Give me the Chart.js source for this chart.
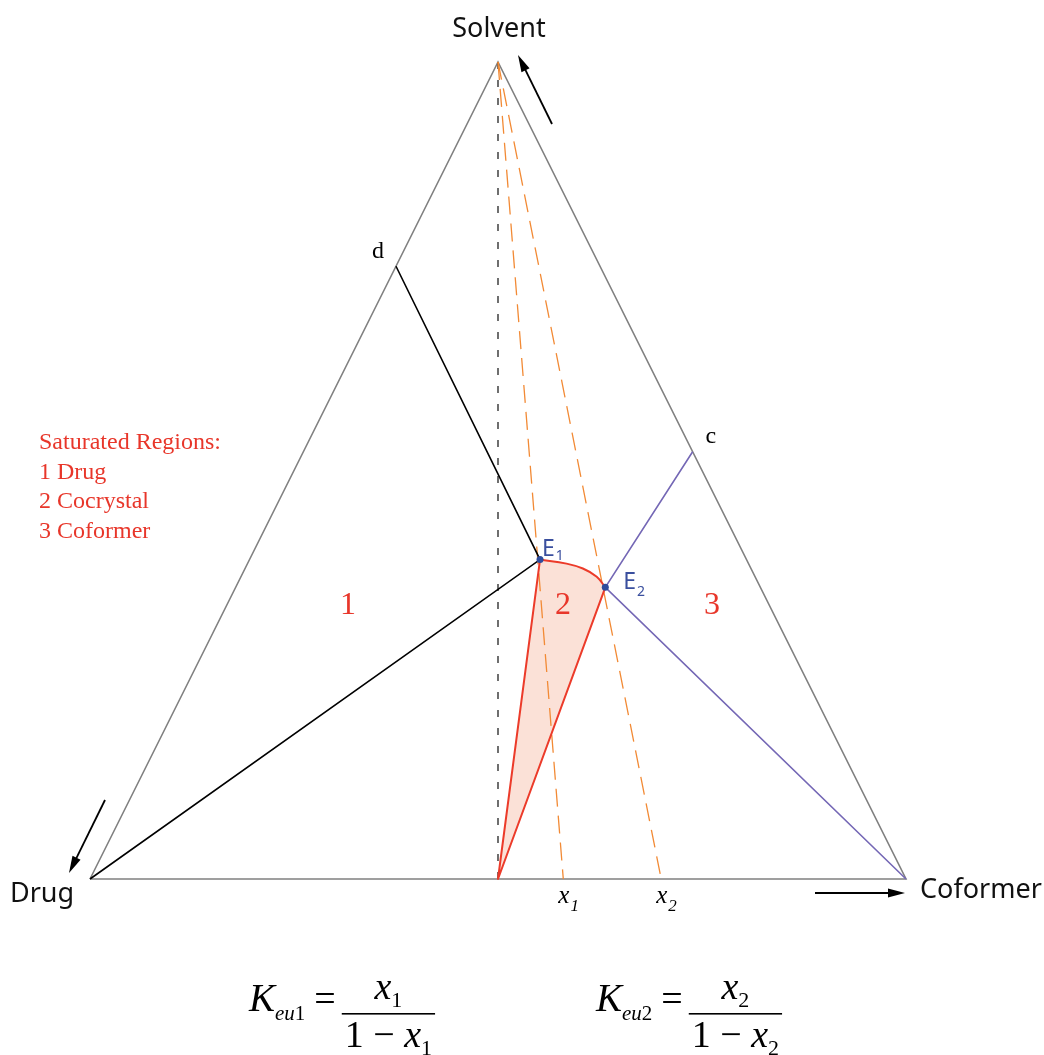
<!DOCTYPE html>
<html>
<head>
<meta charset="utf-8">
<script src="https://cdn.jsdelivr.net/npm/chart.js@4.4.1/dist/chart.umd.min.js"></script>
<style>body{margin:0;background:#fff}canvas{display:block}</style>
</head>
<body>
<canvas id="myChart" width="1044" height="1055"></canvas>
<script>
// compositions are [coformer, solvent] mole fractions, drug = 1 - coformer - solvent
var vertexNames = ['Drug', 'Coformer', 'Solvent']
var vertexCoformer = [0, 1, 0]
var vertexSolvent = [0, 0, 1]

var cocrystalCoformer = 0.5   // 1:1 cocrystal on the drug-coformer edge

var eutecticNames = ['E1', 'E2']
var eutecticCoformer = [0.356, 0.453]
var eutecticSolvent = [0.391, 0.357]

// cocrystal solubility curve from E1 to E2
var curveCoformer = [0.356, 0.391, 0.414, 0.436, 0.453]
var curveSolvent = [0.391, 0.386, 0.380, 0.370, 0.357]

// drug solubility end (d, drug-solvent edge) and coformer solubility end (c, coformer-solvent edge)
var dSolvent = 0.75
var cCoformer = 0.477, cSolvent = 0.523

// x1, x2 where the solvent rays through E1 / E2 hit the base
var xNames = ['1', '2']
var xValues = [0.58, 0.70]

var regionNames = ['1', '2', '3']
var legendLines = ['Saturated Regions:', '1 Drug', '2 Cocrystal', '3 Coformer']

function tern(cof, solv) { return { x: cof + solv / 2, y: solv } }

var drugPt = tern(vertexCoformer[0], vertexSolvent[0])
var cofPt = tern(vertexCoformer[1], vertexSolvent[1])
var solvPt = tern(vertexCoformer[2], vertexSolvent[2])
var ccPt = tern(cocrystalCoformer, 0)
var e1 = tern(eutecticCoformer[0], eutecticSolvent[0])
var e2 = tern(eutecticCoformer[1], eutecticSolvent[1])
var dPt = tern(0, dSolvent)
var cPt = tern(cCoformer, cSolvent)
var curve = curveCoformer.map(function (c, i) { return tern(c, curveSolvent[i]) })

var SERIF = '"Liberation Serif", "DejaVu Serif", serif'
var SANS = '"Noto Sans", "DejaVu Sans", sans-serif'

function toPx(chart, p) {
  return { x: chart.scales.x.getPixelForValue(p.x), y: chart.scales.y.getPixelForValue(p.y) }
}

function arrow(ctx, x1, y1, x2, y2) {
  var a = Math.atan2(y2 - y1, x2 - x1), ca = Math.cos(a), sa = Math.sin(a)
  ctx.beginPath()
  ctx.moveTo(x1, y1)
  ctx.lineTo(x2 - 10 * ca, y2 - 10 * sa)
  ctx.stroke()
  ctx.beginPath()
  ctx.moveTo(x2, y2)
  ctx.lineTo(x2 - 17 * ca + 4.5 * sa, y2 - 17 * sa - 4.5 * ca)
  ctx.lineTo(x2 - 17 * ca - 4.5 * sa, y2 - 17 * sa + 4.5 * ca)
  ctx.closePath()
  ctx.fill()
}

// main text + subscript, returns end x
function subText(ctx, main, sub, x, y, mainFont, subFont, dy) {
  ctx.font = mainFont
  ctx.fillText(main, x, y)
  var w = ctx.measureText(main).width
  ctx.font = subFont
  ctx.fillText(sub, x + w + 1, y + dy)
  return x + w + 1 + ctx.measureText(sub).width
}

function formula(ctx, x, base, n) {
  ctx.fillStyle = '#000'
  ctx.textAlign = 'left'
  ctx.font = 'italic 39px ' + SERIF
  ctx.fillText('K', x, base)
  var cx = x + ctx.measureText('K').width
  ctx.font = 'italic 21px ' + SERIF
  ctx.fillText('eu', cx, base + 9)
  cx += ctx.measureText('eu').width
  ctx.font = '21px ' + SERIF
  ctx.fillText(n, cx, base + 9)
  cx += ctx.measureText(n).width + 9
  ctx.font = '38px ' + SERIF
  ctx.fillText('=', cx, base)
  cx += ctx.measureText('=').width + 6
  // denominator width
  ctx.font = '38px ' + SERIF
  var w1 = ctx.measureText('1 \u2212 ').width
  ctx.font = 'italic 38px ' + SERIF
  var wx = ctx.measureText('x').width
  ctx.font = '22px ' + SERIF
  var ws = ctx.measureText(n).width
  var barW = w1 + wx + ws + 6
  ctx.fillRect(cx, base + 2, barW, 1.6)
  // numerator
  var nx = cx + barW / 2 - (wx + ws) / 2
  ctx.font = 'italic 38px ' + SERIF
  ctx.fillText('x', nx, base - 12)
  ctx.font = '22px ' + SERIF
  ctx.fillText(n, nx + wx, base - 4)
  // denominator
  var dx = cx + 3
  ctx.font = '38px ' + SERIF
  ctx.fillText('1 \u2212 ', dx, base + 36)
  ctx.font = 'italic 38px ' + SERIF
  ctx.fillText('x', dx + w1, base + 36)
  ctx.font = '22px ' + SERIF
  ctx.fillText(n, dx + w1 + wx, base + 44)
}

var labelsPlugin = {
  id: 'labels',
  afterDraw: function (chart) {
    var ctx = chart.ctx
    ctx.save()
    ctx.textBaseline = 'alphabetic'

    var pD = toPx(chart, drugPt), pC = toPx(chart, cofPt), pS = toPx(chart, solvPt)

    // vertex names
    ctx.fillStyle = '#111'
    ctx.font = '27px ' + SANS
    ctx.textAlign = 'center'
    ctx.fillText(vertexNames[2], pS.x + 1, pS.y - 25)
    ctx.fillText(vertexNames[0], pD.x - 48, pD.y + 23)
    ctx.textAlign = 'left'
    ctx.fillText(vertexNames[1], pC.x + 14, pC.y + 19)

    // direction arrows
    ctx.strokeStyle = '#000'
    ctx.fillStyle = '#000'
    ctx.lineWidth = 1.8
    arrow(ctx, pS.x + 54, pS.y + 62, pS.x + 20, pS.y - 7)
    arrow(ctx, pD.x + 15, pD.y - 79, pD.x - 21, pD.y - 6)
    arrow(ctx, pC.x - 91, pC.y + 14, pC.x - 1, pC.y + 14)

    // d, c
    var pd = toPx(chart, dPt), pc = toPx(chart, cPt)
    ctx.font = '24px ' + SERIF
    ctx.fillText('d', pd.x - 24, pd.y - 8)
    ctx.fillText('c', pc.x + 13, pc.y - 9)

    // eutectic labels
    ctx.fillStyle = '#3a4f9e'
    var pe1 = toPx(chart, e1), pe2 = toPx(chart, e2)
    subText(ctx, 'E', eutecticNames[0].slice(1), pe1.x + 2, pe1.y - 4, '23px ' + SANS, '14px ' + SANS, 4)
    subText(ctx, 'E', eutecticNames[1].slice(1), pe2.x + 18, pe2.y + 2, '23px ' + SANS, '14px ' + SANS, 7)

    // region numbers
    ctx.fillStyle = '#e8362a'
    ctx.font = '32px ' + SERIF
    ctx.textAlign = 'center'
    var regY = pD.y - 265
    ctx.fillText(regionNames[0], 348, regY)
    ctx.fillText(regionNames[1], 563, regY)
    ctx.fillText(regionNames[2], 712, regY)

    // legend
    ctx.textAlign = 'left'
    ctx.font = '24px ' + SERIF
    legendLines.forEach(function (t, i) { ctx.fillText(t, 39, 449 + i * 29.5) })

    // x1, x2 under base
    ctx.fillStyle = '#000'
    xValues.forEach(function (v, i) {
      var p = toPx(chart, tern(v, 0))
      subText(ctx, 'x', xNames[i], p.x - 5, p.y + 24, 'italic 25px ' + SERIF, 'italic 17px ' + SERIF, 8)
    })

    // equilibrium constants
    formula(ctx, 249, 1011, '1')
    formula(ctx, 596, 1011, '2')

    ctx.restore()
  }
}

var ctx = document.getElementById('myChart').getContext('2d')

var chart = new Chart(ctx, {
  type: 'scatter',
  data: {
    datasets: [
      {
        // cocrystal region fill
        data: [e1].concat(curve.slice(1, -1), [e2, ccPt, e1]),
        showLine: true, fill: 'shape', borderWidth: 0, borderColor: 'rgba(0,0,0,0)',
        backgroundColor: 'rgba(250,218,205,0.8)', pointRadius: 0, order: 10
      },
      {
        // triangle
        data: [drugPt, cofPt, solvPt, drugPt],
        showLine: true, borderColor: '#808080', borderWidth: 1.6, pointRadius: 0, order: 9
      },
      {
        // solvent -> cocrystal composition
        data: [solvPt, ccPt],
        showLine: true, borderColor: '#222', borderWidth: 1.3, borderDash: [7, 11], pointRadius: 0, order: 8
      },
      {
        data: [solvPt, tern(xValues[0], 0)],
        showLine: true, borderColor: '#f28a35', borderWidth: 1.3, borderDash: [18, 9], pointRadius: 0, order: 7
      },
      {
        data: [solvPt, tern(xValues[1], 0)],
        showLine: true, borderColor: '#f28a35', borderWidth: 1.3, borderDash: [18, 9], pointRadius: 0, order: 7
      },
      {
        // drug solubility and drug / cocrystal boundary
        data: [dPt, e1, drugPt],
        showLine: true, borderColor: '#000', borderWidth: 1.6, pointRadius: 0, order: 5
      },
      {
        // coformer solubility and coformer / cocrystal boundary
        data: [cPt, e2, cofPt],
        showLine: true, borderColor: '#7467b5', borderWidth: 1.6, pointRadius: 0, order: 5
      },
      {
        data: [e1, ccPt, e2],
        showLine: true, borderColor: '#ec3b2a', borderWidth: 2, borderJoinStyle: 'round', pointRadius: 0, order: 4
      },
      {
        data: curve,
        showLine: true, borderColor: '#ec3b2a', borderWidth: 2, tension: 0.4, pointRadius: 0, order: 4
      },
      {
        data: [e1, e2],
        showLine: false, pointRadius: 3.5, pointBackgroundColor: '#2f4c9c', pointBorderWidth: 0, order: 1
      }
    ]
  },
  options: {
    responsive: false,
    animation: false,
    layout: { padding: 0, autoPadding: false },
    plugins: { legend: { display: false }, tooltip: { enabled: false } },
    scales: {
      x: { type: 'linear', display: false, min: -90 / 816, max: (1044 - 90) / 816 },
      y: { type: 'linear', display: false, min: 1 - 993 / 817, max: 1 + 62 / 817 }
    }
  },
  plugins: [labelsPlugin]
})
</script>
</body>
</html>
